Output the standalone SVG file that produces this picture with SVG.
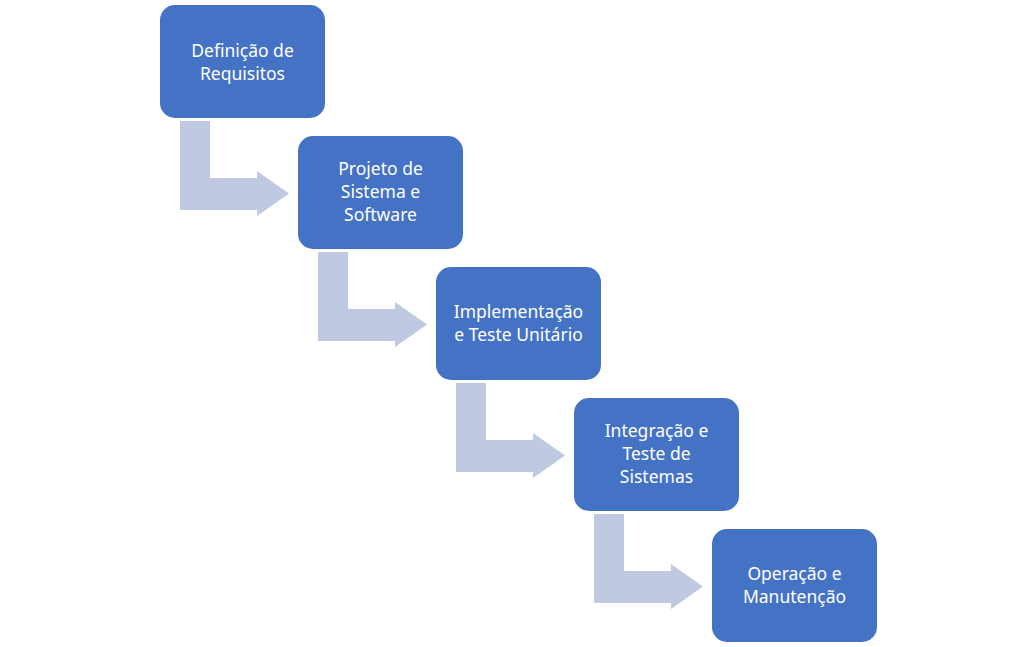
<svg xmlns="http://www.w3.org/2000/svg" width="1036" height="647" viewBox="0 0 1036 647">
<defs>
<style>
.box{fill:#4472C4;}
.arr{fill:#BFC9E2;}
.t{font-family:"Noto Sans","Liberation Sans",Arial,sans-serif;font-size:17.5px;fill:#FFFFFF;text-anchor:middle;}
</style>
<path id="bent" d="M20,116 H50 V173 H97 V166 L129,188.5 L97,211 V205 H20 Z"/>
</defs>
<rect width="1036" height="647" fill="#FFFFFF"/>
<g id="connectors">
<use href="#bent" class="arr" x="160" y="5"/>
<use href="#bent" class="arr" x="298" y="136"/>
<use href="#bent" class="arr" x="436" y="267"/>
<use href="#bent" class="arr" x="574" y="398"/>
</g>
<g id="n1">
<rect class="box" x="160" y="5" width="165" height="113" rx="15"/>
<text class="t" x="242.5" y="57">Definição de</text>
<text class="t" x="242.5" y="80">Requisitos</text>
</g>
<g id="n2">
<rect class="box" x="298" y="136" width="165" height="113" rx="15"/>
<text class="t" x="380.5" y="175">Projeto de</text>
<text class="t" x="380.5" y="198">Sistema e</text>
<text class="t" x="380.5" y="221">Software</text>
</g>
<g id="n3">
<rect class="box" x="436" y="267" width="165" height="113" rx="15"/>
<text class="t" x="518.5" y="318">Implementação</text>
<text class="t" x="518.5" y="341">e Teste Unitário</text>
</g>
<g id="n4">
<rect class="box" x="574" y="398" width="165" height="113" rx="15"/>
<text class="t" x="656.5" y="437">Integração e</text>
<text class="t" x="656.5" y="460">Teste de</text>
<text class="t" x="656.5" y="483">Sistemas</text>
</g>
<g id="n5">
<rect class="box" x="712" y="529" width="165" height="113" rx="15"/>
<text class="t" x="794.5" y="580">Operação e</text>
<text class="t" x="794.5" y="603">Manutenção</text>
</g>
</svg>
